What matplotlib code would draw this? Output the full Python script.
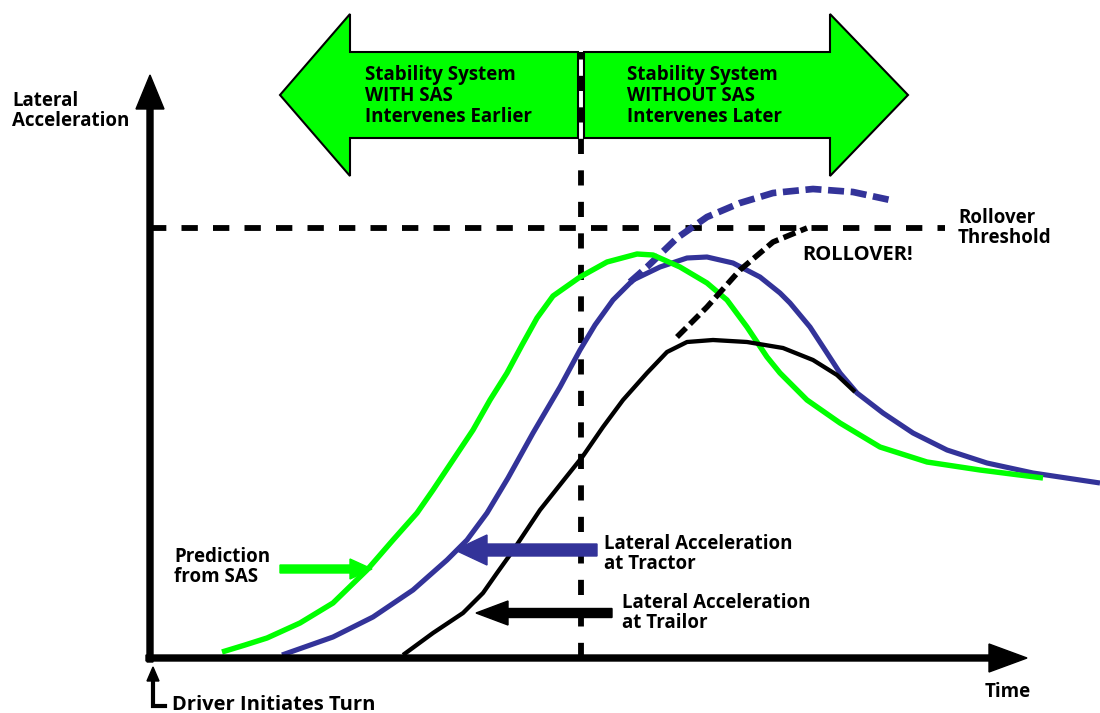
import matplotlib.pyplot as plt

# ── Colours / font ────────────────────────────────────────────────────────────
GREEN = "#00ff00"
BLUE = "#333399"
FONT = "Open Sans"

# ── Data (time vs lateral acceleration, arbitrary units) ─────────────────────
pred_t = [0.72, 0.95, 1.17, 1.50, 1.83, 2.17, 2.43, 2.67, 2.83, 3.03, 3.23, 3.40, 3.57,
          3.72, 3.87, 4.03, 4.30, 4.57, 4.87, 5.03, 5.30, 5.57, 5.77, 5.97, 6.17, 6.30,
          6.57, 6.90, 7.30, 7.77, 8.30, 8.93]
pred_a = [0.06, 0.13, 0.20, 0.35, 0.55, 0.88, 1.18, 1.45, 1.68, 1.98, 2.28, 2.58, 2.85,
          3.13, 3.40, 3.62, 3.81, 3.96, 4.04, 4.03, 3.91, 3.75, 3.58, 3.31, 3.01, 2.85,
          2.58, 2.35, 2.11, 1.96, 1.88, 1.80]

tractor_t = [1.32, 1.83, 2.23, 2.63, 2.97, 3.17, 3.37, 3.58, 3.83, 4.10, 4.30, 4.45, 4.63,
             4.83, 5.10, 5.37, 5.57, 5.83, 6.10, 6.30, 6.40, 6.60, 6.77, 6.90, 7.07, 7.33,
             7.63, 7.97, 8.37, 8.83, 9.50]
tractor_a = [0.03, 0.21, 0.41, 0.68, 0.98, 1.18, 1.45, 1.80, 2.25, 2.71, 3.08, 3.33, 3.58,
             3.78, 3.91, 4.00, 4.01, 3.95, 3.81, 3.65, 3.55, 3.31, 3.05, 2.85, 2.65, 2.45,
             2.25, 2.08, 1.95, 1.85, 1.75]

# tractor without SAS (dashed)
tractor_nosas_t = [4.80, 4.97, 5.27, 5.57, 5.90, 6.23, 6.63, 7.03, 7.40]
tractor_nosas_a = [3.76, 3.91, 4.20, 4.41, 4.55, 4.65, 4.69, 4.66, 4.58]

trailer_t = [2.53, 2.83, 3.13, 3.33, 3.47, 3.62, 3.90, 4.17, 4.33, 4.53, 4.73, 4.97, 5.17,
             5.37, 5.63, 5.97, 6.33, 6.63, 6.87, 7.05]
trailer_a = [0.03, 0.25, 0.45, 0.65, 0.85, 1.06, 1.48, 1.82, 2.02, 2.31, 2.58, 2.85, 3.06,
             3.16, 3.18, 3.16, 3.10, 2.98, 2.83, 2.66]

# trailer without SAS -> rollover (dashed)
rollover_t = [5.27, 5.57, 5.90, 6.23, 6.57]
rollover_a = [3.21, 3.51, 3.88, 4.16, 4.30]

THRESHOLD = 4.30      # rollover threshold
THRESH_END = 7.95
SAS_TIME = 4.31       # intervention time split
T_MAX = 8.77
A_MAX = 5.83

# ── Figure ───────────────────────────────────────────────────────────────────
fig = plt.figure(figsize=(11, 7.13), dpi=100)
ax = fig.add_axes([0, 0, 1, 1])
ax.set_xlim(-1.5, 9.5)
ax.set_ylim(-0.55, 6.58)
ax.axis("off")

# green double arrow at the top
mid = 5.63
ax.arrow(SAS_TIME - 0.03, mid, -(SAS_TIME - 0.03 - 1.30), 0, width=0.86, head_width=1.62,
         head_length=0.70, length_includes_head=True, fc=GREEN, ec="black", lw=1.5, zorder=2)
ax.arrow(SAS_TIME + 0.03, mid, 7.58 - (SAS_TIME + 0.03), 0, width=0.86, head_width=1.62,
         head_length=0.78, length_includes_head=True, fc=GREEN, ec="black", lw=1.5, zorder=2)

txt = dict(fontfamily=FONT, fontweight="bold", color="black", fontsize=13.5,
           ha="left", va="center", linespacing=1.05)
ax.text(2.15, mid - 0.01, "Stability System\nWITH SAS\nIntervenes Earlier", zorder=5, **txt)
ax.text(4.77, mid - 0.01, "Stability System\nWITHOUT SAS\nIntervenes Later", zorder=5, **txt)

# reference lines
ax.plot([0, THRESH_END], [THRESHOLD, THRESHOLD], color="black", lw=4.2,
        dashes=(2.8, 2.6), dash_capstyle="butt", zorder=3)
ax.plot([SAS_TIME, SAS_TIME], [0, 6.06], color="black", lw=4.2,
        dashes=(2.6, 2.8), dash_capstyle="butt", zorder=4)

# curves
ax.plot(pred_t, pred_a, color=GREEN, lw=3.9, solid_capstyle="butt",
        solid_joinstyle="round", zorder=6)
ax.plot(tractor_t, tractor_a, color=BLUE, lw=3.7, solid_capstyle="butt",
        solid_joinstyle="round", zorder=5)
ax.plot(tractor_nosas_t, tractor_nosas_a, color=BLUE, lw=4.8, dashes=(2.4, 1.0),
        dash_capstyle="butt", zorder=5)
ax.plot(trailer_t, trailer_a, color="black", lw=3.1, solid_capstyle="butt",
        solid_joinstyle="round", zorder=7)
ax.plot(rollover_t, rollover_a, color="black", lw=4.0, dashes=(2.3, 1.0),
        dash_capstyle="butt", zorder=7)

# axes with arrow heads
ax.arrow(-0.04, 0, T_MAX + 0.04, 0, width=0.06, head_width=0.28, head_length=0.38,
         length_includes_head=True, fc="black", ec="black", zorder=8)
ax.arrow(0, -0.04, 0, A_MAX + 0.04, width=0.06, head_width=0.28, head_length=0.34,
         length_includes_head=True, fc="black", ec="black", zorder=8)

# label arrows
ax.arrow(1.30, 0.89, 0.92, 0, width=0.08, head_width=0.20, head_length=0.22,
         length_includes_head=True, fc=GREEN, ec=GREEN, zorder=9)
ax.arrow(4.47, 1.08, -1.42, 0, width=0.12, head_width=0.30, head_length=0.32,
         length_includes_head=True, fc=BLUE, ec=BLUE, zorder=9)
ax.arrow(4.62, 0.45, -1.36, 0, width=0.09, head_width=0.24, head_length=0.32,
         length_includes_head=True, fc="black", ec="black", zorder=9)

# driver initiates turn marker
ax.plot([0.03, 0.03, 0.15], [-0.20, -0.48, -0.48], color="black", lw=3.0,
        solid_joinstyle="miter", zorder=8)
ax.arrow(0.03, -0.30, 0, 0.21, width=0.0, head_width=0.12, head_length=0.14,
         length_includes_head=True, fc="black", ec="black", zorder=8)

lab = dict(fontfamily=FONT, fontweight="bold", color="black", fontsize=13.5,
           ha="left", va="center", linespacing=0.95)
ax.text(-1.38, 5.47, "Lateral\nAcceleration", **lab)
ax.text(8.08, 4.30, "Rollover\nThreshold", **lab)
ax.text(6.52, 4.03, "ROLLOVER!", **{**lab, "fontsize": 14.5})
ax.text(0.24, 0.91, "Prediction\nfrom SAS", **lab)
ax.text(4.54, 1.04, "Lateral Acceleration\nat Tractor", **lab)
ax.text(4.72, 0.45, "Lateral Acceleration\nat Trailor", **lab)
ax.text(8.35, -0.34, "Time", **lab)
ax.text(0.22, -0.47, "Driver Initiates Turn", **{**lab, "fontsize": 14.5})

fig.savefig("out.png", dpi=100)
